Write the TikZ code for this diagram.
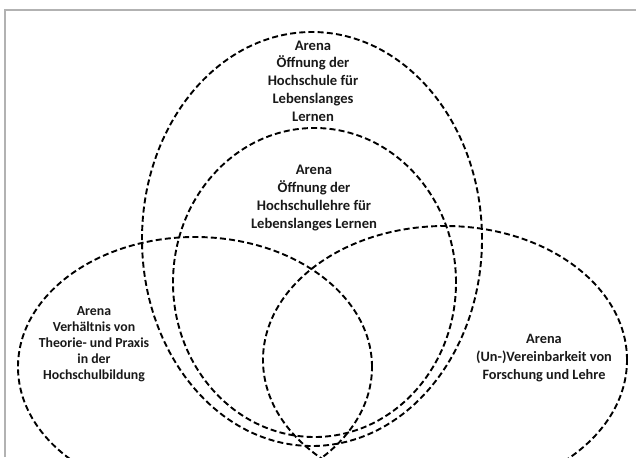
\documentclass[tikz,border=0pt]{standalone}
\usepackage{fontspec}
\setmainfont{Carlito}
\usetikzlibrary{
    shapes.geometric
}
\tikzset{
  arena/.style    = {ellipse, draw=black, line width=1.9pt,
                     dash pattern=on 6pt off 3.2pt, inner sep=0pt},
  arenatext/.style = {align=center, text=black!90,
                     font=\bfseries\fontsize{14.6}{17.8}\selectfont},
  frame/.style    = {gray!60, line width=1.2pt}
}

\begin{document}
\begin{tikzpicture}[x=1pt, y=-1pt]

\useasboundingbox (0,0) rectangle (636,457);
\clip (0,0) rectangle (636,457);

%% --- Rahmen ---
\coordinate (fl) at (5,457);
\coordinate (fc) at (5,10);
\coordinate (fr) at (636,10);
\draw[frame] (fl) -- (fc) -- (fr);

%% --- Arenen ---
\node[arena, minimum width=340pt, minimum height=414pt] (hochschule) at (312,239) {};
\node[arena, minimum width=283pt, minimum height=309pt] (lehre) at (314.5,282.5) {};
\node[arena, minimum width=354pt, minimum height=260pt] (praxis) at (195,367) {};
\node[arena, minimum width=364pt, minimum height=268pt] (forschung) at (445,360) {};

%% --- Beschriftungen ---
\node[arenatext] (t-hochschule) at (313,81) {%
  Arena\\
  Öffnung der\\
  Hochschule für\\
  Lebenslanges\\
  Lernen};

\node[arenatext] (t-lehre) at (314,198) {%
  Arena\\
  Öffnung der\\
  Hochschullehre für\\
  Lebenslanges Lernen};

\node[arenatext, font=\bfseries\fontsize{13.8}{16}\selectfont] (t-praxis) at (94,344) {%
  Arena\\
  Verhältnis von\\
  Theorie- und Praxis\\
  in der\\
  Hochschulbildung};

\node[arenatext, font=\bfseries\fontsize{14.3}{17.8}\selectfont] (t-forschung) at (544,358) {%
  Arena\\
  (Un-)Vereinbarkeit von\\
  Forschung und Lehre};

\end{tikzpicture}
\end{document}
